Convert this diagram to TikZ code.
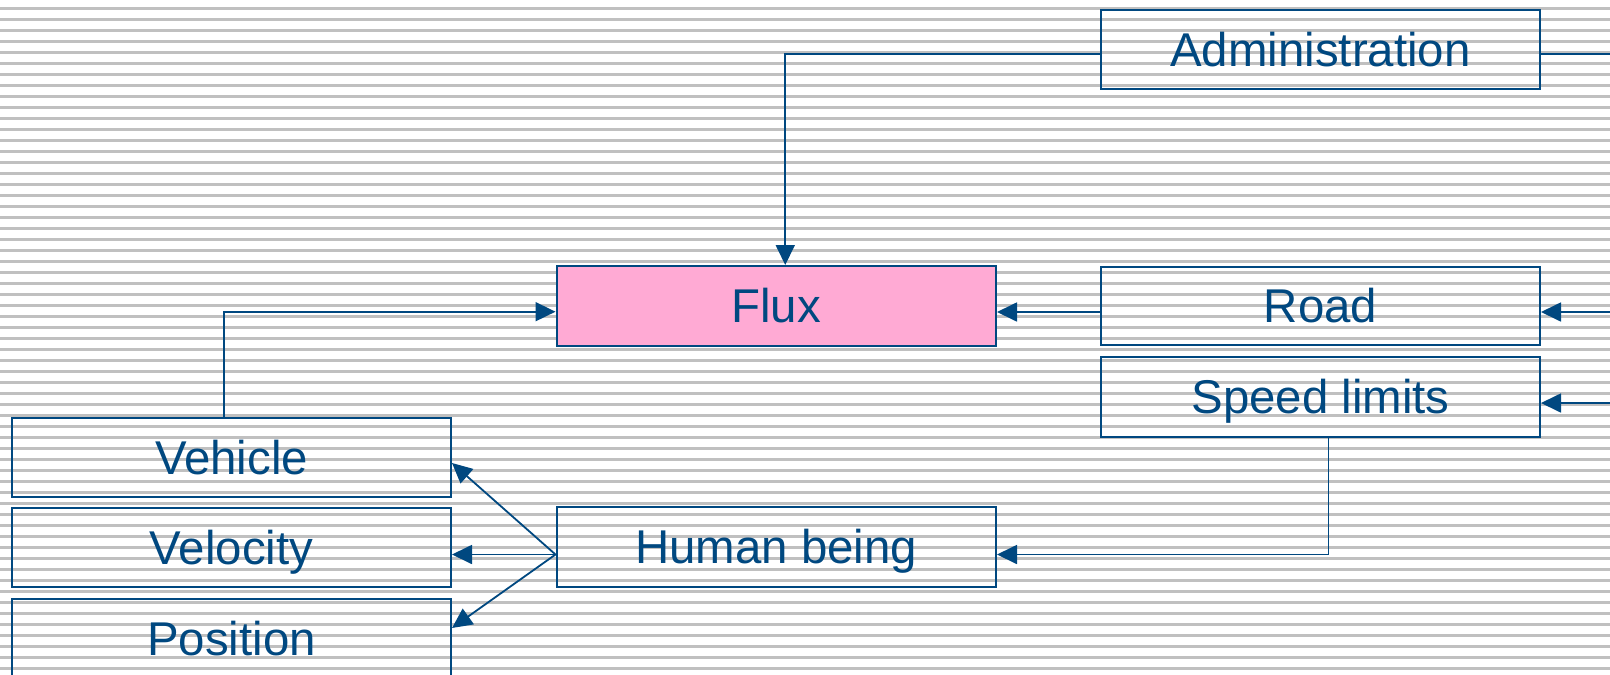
\documentclass[tikz,border=0pt]{standalone}
\usepackage{fontspec}
\setmainfont{Liberation Sans}
\usetikzlibrary{arrows.meta,calc}
\definecolor{dblue}{RGB}{0,72,128}
\definecolor{stripe}{RGB}{192,192,192}
\definecolor{fluxpink}{RGB}{255,170,212}
\tikzset{
  box/.style={draw=dblue, line width=2pt, rectangle, inner sep=0pt,
    minimum width=439pt, minimum height=79pt, text=dblue,
    font=\fontsize{47.4}{56}\selectfont, text height=45.8pt, text depth=11.85pt},
  conn/.style={draw=dblue, line width=1.8pt},
  arr/.style={conn, -{Triangle[length=20pt,width=19pt]}},
}
\begin{document}
\begin{tikzpicture}[x=1pt,y=-1pt]
\useasboundingbox (0,0) rectangle (1610,675);
\fill[white] (0,0) rectangle (1610,675);
\foreach \k in {0,...,60} {
  \draw[stripe, line width=2.4pt] (0,{8.3+11*\k}) -- (1610,{8.3+11*\k});
}
\node[box] (admin) at (1320.5,49.5) {Administration};
\node[box, fill=fluxpink, minimum width=439.5pt, minimum height=80pt] (flux) at (776.25,306) {Flux};
\node[box, minimum height=78pt] (road) at (1320.5,306) {Road};
\node[box, minimum height=80pt] (speed) at (1320.5,397) {Speed limits};
\node[box, minimum width=439.5pt, minimum height=80pt] (human) at (776.25,547) {Human being};
\node[box] (vehicle) at (231.5,457.5) {Vehicle};
\node[box] (velocity) at (231.5,547.5) {Velocity};
\node[box] (position) at (231.5,638.5) {Position};
\coordinate (adminR) at (1610,54);
\coordinate (roadR) at (1610,312);
\coordinate (speedR) at (1610,403);
\draw[arr] ([yshift=-4.5pt]admin.west) -| ([xshift=9pt]flux.north);
\draw[conn] ([yshift=-4.5pt]admin.east) -- (adminR);
\draw[arr] ([yshift=-6pt]road.west) -- ([yshift=-6pt]flux.east);
\draw[arr] (roadR) -- ([yshift=-6pt]road.east);
\draw[arr] (speedR) -- ([yshift=-6pt]speed.east);
\draw[arr] ([xshift=8pt]speed.south) |- ([yshift=-7.5pt]human.east);
\draw[arr] ([xshift=-7.5pt]vehicle.north) |- ([yshift=-5.7pt]flux.west);
\draw[arr] ([yshift=-7.5pt]human.west) -- ([yshift=-7pt]velocity.east);
\draw[arr] ([yshift=-7.5pt]human.west) -- ([yshift=-5.5pt]vehicle.east);
\draw[arr] ([yshift=-7.5pt]human.west) -- ([yshift=10.5pt]position.east);
\end{tikzpicture}
\end{document}
